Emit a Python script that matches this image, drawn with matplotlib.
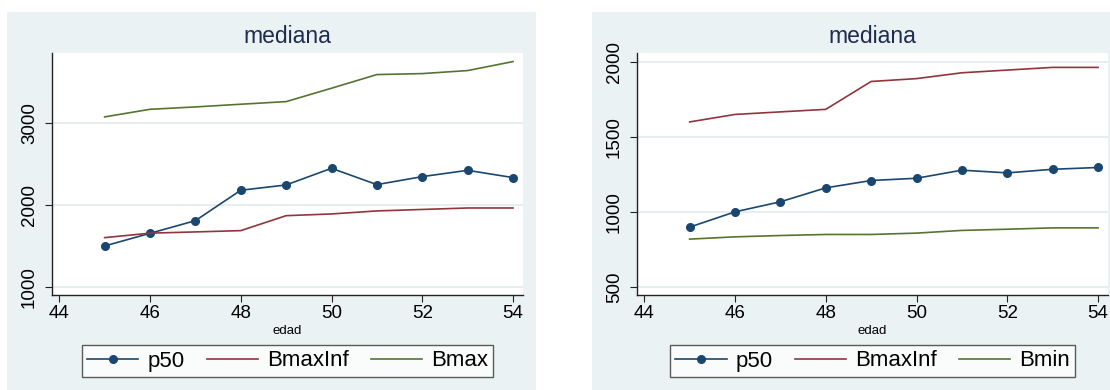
import matplotlib
matplotlib.use("Agg")
import matplotlib.pyplot as plt
from matplotlib.patches import Rectangle

plt.rcParams['font.family'] = ['Liberation Sans', 'DejaVu Sans']

# data
edad = [45, 46, 47, 48, 49, 50, 51, 52, 53, 54]

# left panel
p50_left = [1498, 1653, 1808, 2180, 2245, 2449, 2249, 2347, 2424, 2335]
bmaxinf_left = [1600, 1655, 1670, 1686, 1869, 1890, 1927, 1945, 1963, 1963]
bmax_left = [3078, 3171, 3200, 3233, 3265, 3429, 3596, 3608, 3645, 3755]

# right panel
p50_right = [898, 1000, 1067, 1160, 1209, 1224, 1278, 1260, 1284, 1296]
bmaxinf_right = [1600, 1650, 1667, 1684, 1870, 1889, 1928, 1946, 1964, 1964]
bmin_right = [818, 833, 842, 849, 849, 858, 876, 884, 893, 893]

navy = '#1a476f'
maroon = '#90353b'
green = '#55752f'
bg = '#eaf2f3'
W, H = 1110, 390

fig = plt.figure(figsize=(W / 100, H / 100), dpi=100)

# grey graph regions behind each panel
for x0, x1 in [(7, 536), (592, 1110)]:
    fig.add_artist(Rectangle((x0 / W, 0), (x1 - x0) / W, (H - 12) / H,
                             transform=fig.transFigure, facecolor=bg,
                             edgecolor='none', zorder=-10))


def panel(left_px, p50, inf, third, third_name, yticks, ylim):
    ax = fig.add_axes([left_px / W, (H - 295) / H, 471 / W, 242 / H])
    ax.set_facecolor('white')
    ax.plot(edad, p50, color=navy, lw=1.2, marker='o', ms=5.5, label='p50')
    ax.plot(edad, inf, color=maroon, lw=1.2, label='BmaxInf')
    ax.plot(edad, third, color=green, lw=1.2, label=third_name)
    ax.set_xlim(43.84, 54.22)
    ax.set_ylim(*ylim)
    ax.set_xticks([44, 46, 48, 50, 52, 54])
    ax.set_yticks(yticks)
    ax.grid(axis='y', color='#e6eeef', lw=1.5)
    ax.set_axisbelow(True)
    for s in ['top', 'right']:
        ax.spines[s].set_visible(False)
    for s in ['left', 'bottom']:
        ax.spines[s].set_color('#222222')
        ax.spines[s].set_linewidth(1.0)
    ax.tick_params(axis='both', length=5, width=0.8, color='#222222',
                   labelsize=13.5)
    ax.tick_params(axis='x', pad=2)
    ax.tick_params(axis='y', pad=5, labelrotation=90)
    for lab in ax.get_yticklabels():
        lab.set_va('center')
    ax.set_title('mediana', fontsize=16.5, color='#1c2b4f', pad=7)
    ax.set_xlabel('edad', fontsize=9.5, labelpad=2)
    cx = (left_px + 471 / 2) / W
    leg = fig.legend(*ax.get_legend_handles_labels(), loc='center',
                     bbox_to_anchor=(cx, (H - 361) / H), ncol=3,
                     fontsize=16, frameon=True, fancybox=False,
                     handlelength=2.3, handletextpad=0.4, columnspacing=1.0,
                     borderpad=0.25, borderaxespad=0)
    leg.get_frame().set_edgecolor('#333333')
    leg.get_frame().set_linewidth(1.0)
    return ax


panel(52, p50_left, bmaxinf_left, bmax_left, 'Bmax', [1000, 2000, 3000], (898, 3860))
panel(637, p50_right, bmaxinf_right, bmin_right, 'Bmin', [500, 1000, 1500, 2000], (445, 2060))

fig.savefig('out.png', dpi=100)
